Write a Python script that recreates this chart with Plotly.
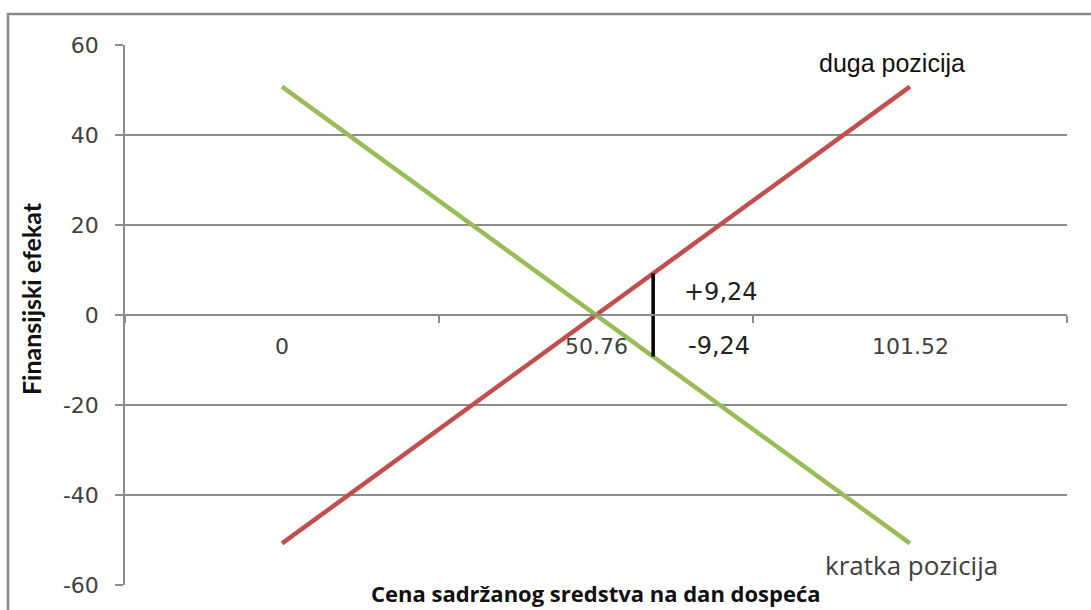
import plotly.graph_objects as go

# Price of the underlying at maturity (category positions) and payoff of each position
cena = [0, 50.76, 101.52]
cena_labels = ["0", "50.76", "101.52"]
duga_pozicija = [-50.76, 0, 50.76]
kratka_pozicija = [50.76, 0, -50.76]

# Marked price level and the resulting gain / loss
cena_oznaka = 60
dobitak = 9.24

y_ticks = [-60, -40, -20, 0, 20, 40, 60]
y_tick_labels = ["-60", "-40", "-20", "0", "20", "40", "60"]

# category boundaries on the price scale (half a step either side of each point)
korak = cena[1] - cena[0]
granice = [cena[0] - korak / 2] + [c + korak / 2 for c in cena]

RED = "#C0504D"
GREEN = "#9BBB59"
GRID = "#8c8c8c"
TXT = "#404040"

fig = go.Figure()

fig.add_trace(go.Scatter(x=cena, y=duga_pozicija, mode="lines",
                         line=dict(color=RED, width=4.5), showlegend=False,
                         hoverinfo="skip"))
fig.add_trace(go.Scatter(x=cena, y=kratka_pozicija, mode="lines",
                         line=dict(color=GREEN, width=4.5), showlegend=False,
                         hoverinfo="skip"))
fig.add_trace(go.Scatter(x=[cena_oznaka, cena_oznaka], y=[-dobitak, dobitak], mode="lines",
                         line=dict(color="black", width=3.5), showlegend=False,
                         hoverinfo="skip"))

fig.update_layout(
    width=1091, height=610,
    margin=dict(l=125, r=24, t=45, b=23),
    paper_bgcolor="white", plot_bgcolor="white",
    font=dict(family="DejaVu Sans", color=TXT, size=22),
    xaxis=dict(range=[granice[0], granice[-1]], anchor="free", position=0.5,
               showgrid=False, zeroline=False, showline=True, linecolor=GRID, linewidth=1.5,
               tickmode="array", tickvals=granice, ticks="outside", ticklen=7,
               tickcolor=GRID, tickwidth=1.5, showticklabels=False),
    yaxis=dict(range=[-60, 60], tickmode="array", tickvals=y_ticks, ticktext=y_tick_labels,
               showgrid=True, gridcolor=GRID, gridwidth=1.5,
               zeroline=False, showline=True, linecolor=GRID, linewidth=1.5,
               ticks="outside", ticklen=8, tickcolor=GRID, tickwidth=1.5,
               ticklabelstandoff=12,
               tickfont=dict(family="DejaVu Sans", size=22, color=TXT)),
)

# price labels under the zero line
for c, t in zip(cena, cena_labels):
    fig.add_annotation(x=c, y=0, xref="x", yref="y", text=t, showarrow=False,
                       yshift=-31, xanchor="center", yanchor="middle",
                       font=dict(family="DejaVu Sans", size=22, color=TXT))

# gain / loss labels beside the marked price
fig.add_annotation(x=cena_oznaka, y=0, text=f"+{dobitak:.2f}".replace(".", ","),
                   showarrow=False, xanchor="left", yanchor="middle", xshift=29, yshift=23,
                   font=dict(family="DejaVu Sans", size=24, color="#222"))
fig.add_annotation(x=cena_oznaka, y=0, text=f"-{dobitak:.2f}".replace(".", ","),
                   showarrow=False, xanchor="left", yanchor="middle", xshift=33, yshift=-31,
                   font=dict(family="DejaVu Sans", size=24, color="#222"))

# series labels
fig.add_annotation(x=892, y=63, xref="x domain", yref="y domain", text="duga pozicija",
                   showarrow=False, xanchor="center", yanchor="middle",
                   font=dict(family="Liberation Sans", size=25, color="#111"),
                   bgcolor="white")
fig.add_annotation(x=911, y=567, xref="x domain", yref="y domain", text="kratka pozicija",
                   showarrow=False, xanchor="center", yanchor="middle",
                   font=dict(family="Open Sans", size=26, color=TXT))

# axis titles
fig.add_annotation(x=31, y=300, xref="x domain", yref="y domain", text="<b>Finansijski efekat</b>",
                   textangle=-90, showarrow=False, xanchor="center", yanchor="middle",
                   font=dict(family="Lato", size=25, color="#111"))
fig.add_annotation(x=596, y=611, xref="x domain", yref="y domain",
                   text="<b>Cena sadržanog sredstva na dan dospeća</b>",
                   showarrow=False, xanchor="center", yanchor="bottom", borderpad=0,
                   font=dict(family="Open Sans", size=22, color="#111"))

# convert pixel placements of the free-standing texts to domain fractions
W, H, L, T = 942, 542, 125, 45
for a in fig.layout.annotations:
    if a.xref == "x domain":
        a.x = (a.x - L) / W
        a.y = 1 - (a.y - T) / H

# chart frame
fig.add_shape(type="rect", xref="paper", yref="paper",
              x0=(8 - L) / W, x1=(1100 - L) / W, y0=-0.2, y1=1 + (T - 14) / H,
              line=dict(color="#8a8a8a", width=2.5), fillcolor="rgba(0,0,0,0)", layer="below")

fig.write_html("out.html")
